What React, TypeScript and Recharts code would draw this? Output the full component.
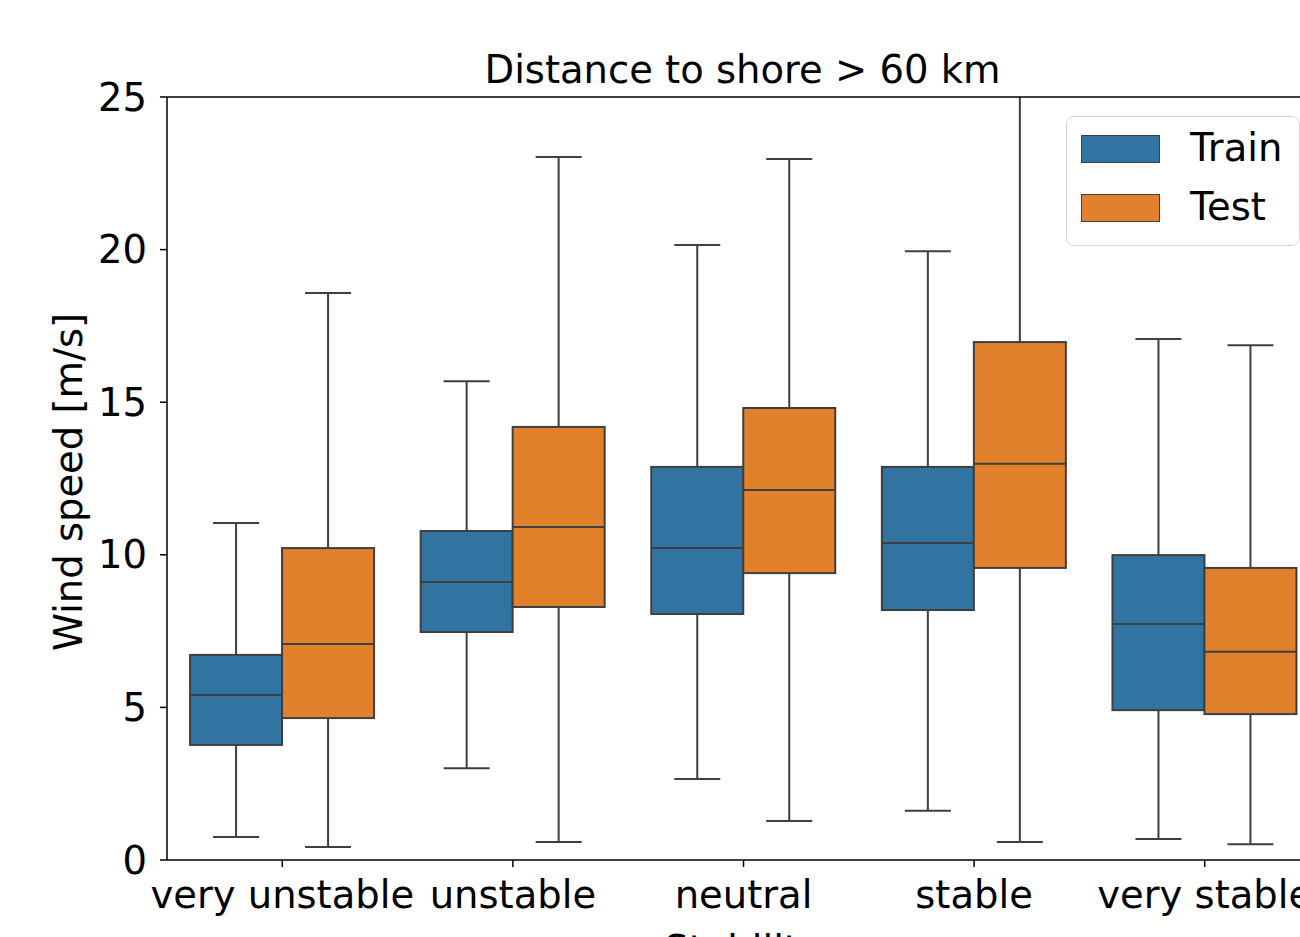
import { ComposedChart, Bar, XAxis, YAxis, Legend, ReferenceLine } from "recharts";

const categories = ["very unstable", "unstable", "neutral", "stable", "very stable"];

const trainLow = [0.75, 3.01, 2.65, 1.61, 0.69];
const trainQ1 = [3.77, 7.47, 8.06, 8.19, 4.91];
const trainMedian = [5.41, 9.11, 10.22, 10.39, 7.73];
const trainQ3 = [6.72, 10.78, 12.88, 12.88, 9.99];
const trainHigh = [11.04, 15.69, 20.15, 19.95, 17.07];

const testLow = [0.43, 0.59, 1.28, 0.59, 0.52];
const testQ1 = [4.65, 8.29, 9.4, 9.57, 4.78];
const testMedian = [7.08, 10.91, 12.12, 12.98, 6.82];
const testQ3 = [10.22, 14.19, 14.81, 16.97, 9.57];
const testHigh = [18.58, 23.03, 22.97, 27.5, 16.87];

const yTicks = [0, 5, 10, 15, 20, 25];
const Y_MAX = 25;

const FONT = "'DejaVu Sans', sans-serif";
const FS = 38.5;
const TRAIN_COLOR = "#3274a1";
const TEST_COLOR = "#e1812c";
const LINE_COLOR = "#3f3f3f";

const data = categories.map((category, i) => ({
  category,
  trainLow: trainLow[i],
  trainQ1: trainQ1[i],
  trainMedian: trainMedian[i],
  trainQ3: trainQ3[i],
  trainHigh: trainHigh[i],
  testLow: testLow[i],
  testQ1: testQ1[i],
  testMedian: testMedian[i],
  testQ3: testQ3[i],
  testHigh: testHigh[i],
}));

// bar spans low..Q3 (always inside the domain); the pixel scale is derived from it
const makeBoxShape = (prefix: "train" | "test", fill: string) => (props: any) => {
  const { x, y, width, height, payload } = props;
  const low = payload[`${prefix}Low`];
  const q1 = payload[`${prefix}Q1`];
  const med = payload[`${prefix}Median`];
  const q3 = payload[`${prefix}Q3`];
  const high = Math.min(payload[`${prefix}High`], Y_MAX);
  const top = Math.min(y, y + height);
  const bottom = Math.max(y, y + height);
  const k = (bottom - top) / (q3 - low);
  const py = (v: number) => bottom - (v - low) * k;
  const cx = x + width / 2;
  const capHalf = width / 4;
  return (
    <g>
      <line x1={cx} x2={cx} y1={py(q3)} y2={py(high)} stroke={LINE_COLOR} strokeWidth={2} />
      <line x1={cx} x2={cx} y1={py(q1)} y2={py(low)} stroke={LINE_COLOR} strokeWidth={2} />
      {payload[`${prefix}High`] <= Y_MAX && (
        <line x1={cx - capHalf} x2={cx + capHalf} y1={py(high)} y2={py(high)} stroke={LINE_COLOR} strokeWidth={2} />
      )}
      <line x1={cx - capHalf} x2={cx + capHalf} y1={py(low)} y2={py(low)} stroke={LINE_COLOR} strokeWidth={2} />
      <rect x={x} y={py(q3)} width={width} height={py(q1) - py(q3)} fill={fill} stroke={LINE_COLOR} strokeWidth={2} />
      <line x1={x} x2={x + width} y1={py(med)} y2={py(med)} stroke={LINE_COLOR} strokeWidth={2} />
    </g>
  );
};

const XTick = ({ x, y, payload }: any) => (
  <text x={x} y={y} dy={41} textAnchor="middle" fill="#000" fontSize={FS} fontFamily={FONT}>
    {payload.value}
  </text>
);

const LegendBox = () => (
  <div
    style={{
      position: "relative",
      width: 232,
      height: 128,
      border: "1.5px solid #d6d6d6",
      borderRadius: 8,
      background: "rgba(255,255,255,0.8)",
      fontFamily: FONT,
      fontSize: FS,
      color: "#000",
    }}
  >
    {[
      { label: "Train", color: TRAIN_COLOR, top: 18 },
      { label: "Test", color: TEST_COLOR, top: 77 },
    ].map((item) => (
      <div key={item.label}>
        <div
          style={{
            position: "absolute",
            left: 14,
            top: item.top,
            width: 77,
            height: 26,
            background: item.color,
            border: `1.5px solid ${LINE_COLOR}`,
          }}
        />
        <div style={{ position: "absolute", left: 123, top: item.top - 13, lineHeight: "52px" }}>{item.label}</div>
      </div>
    ))}
  </div>
);

export default function App() {
  return (
    <div style={{ position: "absolute", left: 0, top: 0, width: 1300, height: 937, overflow: "hidden", background: "#fff" }}>
      <ComposedChart
        width={1400}
        height={1000}
        data={data}
        margin={{ top: 97, right: 80, left: 0, bottom: 40 }}
        barCategoryGap="10%"
        barGap={0}
      >
        <XAxis
          dataKey="category"
          tick={<XTick />}
          tickSize={7}
          tickMargin={0}
          height={100}
          axisLine={{ stroke: "#000", strokeWidth: 1.5 }}
          tickLine={{ stroke: "#000", strokeWidth: 1.5 }}
          interval={0}
        />
        <YAxis
          type="number"
          domain={[0, Y_MAX]}
          ticks={yTicks}
          allowDataOverflow
          width={167}
          tickSize={7}
          tickMargin={13}
          tick={{ fill: "#000", fontSize: FS, fontFamily: FONT }}
          axisLine={{ stroke: "#000", strokeWidth: 1.5 }}
          tickLine={{ stroke: "#000", strokeWidth: 1.5 }}
        />
        <ReferenceLine y={Y_MAX} stroke="#000" strokeWidth={1.5} />
        <Bar
          name="Train"
          dataKey={(d: any) => [d.trainLow, d.trainQ3]}
          fill={TRAIN_COLOR}
          shape={makeBoxShape("train", TRAIN_COLOR)}
          isAnimationActive={false}
        />
        <Bar
          name="Test"
          dataKey={(d: any) => [d.testLow, d.testQ3]}
          fill={TEST_COLOR}
          shape={makeBoxShape("test", TEST_COLOR)}
          isAnimationActive={false}
        />
        <Legend
          layout="vertical"
          align="center"
          verticalAlign="middle"
          wrapperStyle={{ left: 1066, top: 116, width: 236, height: 132 }}
          content={<LegendBox />}
        />
        <text x={742.5} y={83} textAnchor="middle" fontSize={FS} fontFamily={FONT} fill="#000">
          Distance to shore &gt; 60 km
        </text>
        <text x={82} y={482} transform="rotate(-90 82 482)" textAnchor="middle" fontSize={FS} fontFamily={FONT} fill="#000">
          Wind speed [m/s]
        </text>
        <text x={743} y={963} textAnchor="middle" fontSize={FS} fontFamily={FONT} fill="#000">
          Stability
        </text>
      </ComposedChart>
    </div>
  );
}
